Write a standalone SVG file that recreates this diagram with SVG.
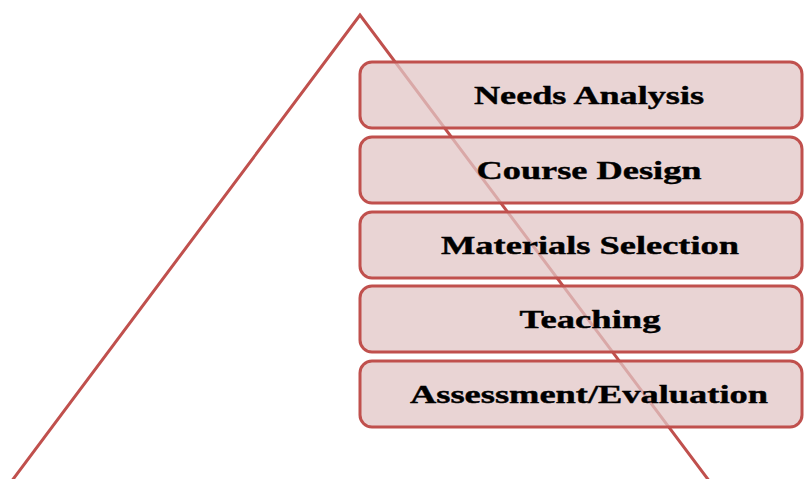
<svg xmlns="http://www.w3.org/2000/svg" width="804" height="479" viewBox="0 0 804 479">
  <style>
    .edge { fill: none; stroke: #C0504D; stroke-width: 3; stroke-linejoin: miter; }
    .step rect { fill: #E2C6C6; fill-opacity: 0.75; stroke: #C0504D; stroke-width: 3; }
    .step text { font-family: "Liberation Serif", "Times New Roman", serif; font-weight: bold; font-size: 26px; fill: #000; stroke: #000; stroke-width: 0.4; text-anchor: middle; }
  </style>
  <rect width="804" height="479" fill="#FFFFFF"/>
  <!-- pyramid outline behind the steps -->
  <g id="connectors">
    <polyline class="edge" points="11,482 360,15 710,482"/>
  </g>
  <g id="step-needs-analysis" class="step">
    <rect x="360" y="62" width="442" height="66" rx="12" ry="12"/>
    <text x="589" y="103.5" textLength="230" lengthAdjust="spacingAndGlyphs">Needs Analysis</text>
  </g>
  <g id="step-course-design" class="step">
    <rect x="360" y="137" width="442" height="66" rx="12" ry="12"/>
    <text x="589" y="178.5" textLength="225" lengthAdjust="spacingAndGlyphs">Course Design</text>
  </g>
  <g id="step-materials-selection" class="step">
    <rect x="360" y="212" width="442" height="66" rx="12" ry="12"/>
    <text x="590" y="253.5" textLength="298" lengthAdjust="spacingAndGlyphs">Materials Selection</text>
  </g>
  <g id="step-teaching" class="step">
    <rect x="360" y="286" width="442" height="66" rx="12" ry="12"/>
    <text x="590" y="327.5" textLength="141" lengthAdjust="spacingAndGlyphs">Teaching</text>
  </g>
  <g id="step-assessment-evaluation" class="step">
    <rect x="360" y="361" width="442" height="66" rx="12" ry="12"/>
    <text x="589" y="402.5" textLength="358" lengthAdjust="spacingAndGlyphs">Assessment/Evaluation</text>
  </g>
</svg>
